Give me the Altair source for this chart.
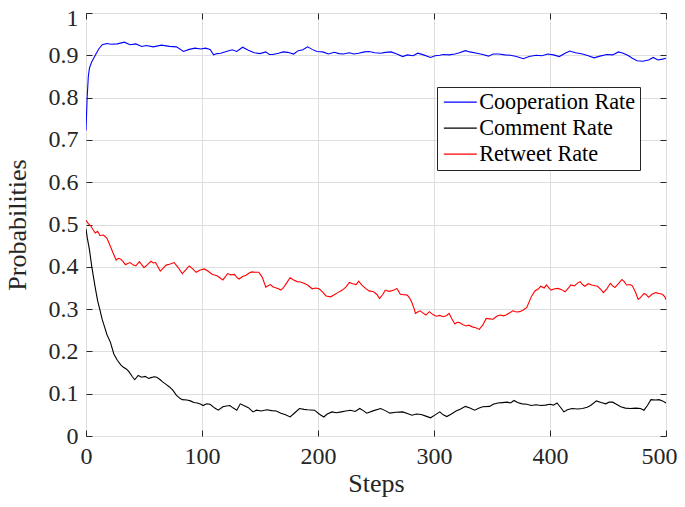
import altair as alt
import pandas as pd

# ---------------- data ----------------
series_names = ["Cooperation Rate", "Comment Rate", "Retweet Rate"]
series_colors = ["#0000ff", "#000000", "#ff0000"]

x_ticks = [0, 100, 200, 300, 400, 500]
y_ticks = [0, 0.1, 0.2, 0.3, 0.4, 0.5, 0.6, 0.7, 0.8, 0.9, 1.0]

coop_steps = [0, 1, 2, 3, 5, 8, 11, 14, 18, 22, 27, 33, 38, 43, 48, 52, 58, 65, 72, 78,
              84, 89, 94, 99, 103, 107, 110, 113, 116, 121, 126, 130, 135, 140, 145, 150,
              155, 158, 161, 166, 170, 174, 179, 183, 187, 191, 195, 199, 204, 209, 214,
              218, 222, 227, 231, 235, 240, 244, 249, 254, 258, 263, 268, 273, 277, 282,
              286, 291, 297, 301, 305, 308, 313, 318, 322, 327, 331, 337, 342, 347, 351,
              356, 361, 366, 371, 377, 382, 388, 393, 398, 403, 408, 413, 417, 422, 428,
              433, 438, 443, 449, 454, 459, 463, 467, 471, 475, 480, 485, 489, 493, 497, 500]
coop_vals = [0.722, 0.80, 0.85, 0.87, 0.885, 0.90, 0.915, 0.925, 0.928, 0.926, 0.927, 0.931,
             0.925, 0.927, 0.921, 0.923, 0.920, 0.924, 0.921, 0.920, 0.909, 0.914, 0.917,
             0.915, 0.917, 0.914, 0.901, 0.904, 0.905, 0.909, 0.913, 0.909, 0.919, 0.912,
             0.906, 0.904, 0.908, 0.902, 0.902, 0.905, 0.908, 0.907, 0.903, 0.911, 0.913,
             0.920, 0.914, 0.909, 0.908, 0.903, 0.907, 0.904, 0.903, 0.906, 0.903, 0.905,
             0.908, 0.909, 0.906, 0.905, 0.907, 0.908, 0.903, 0.897, 0.901, 0.899, 0.905,
             0.901, 0.895, 0.899, 0.900, 0.902, 0.901, 0.903, 0.906, 0.911, 0.908, 0.905,
             0.902, 0.898, 0.903, 0.903, 0.901, 0.900, 0.897, 0.892, 0.897, 0.900, 0.899,
             0.903, 0.901, 0.897, 0.905, 0.910, 0.906, 0.903, 0.899, 0.894, 0.898, 0.902,
             0.901, 0.908, 0.905, 0.900, 0.893, 0.887, 0.886, 0.889, 0.895, 0.889, 0.891, 0.893]

comment_steps = [0, 1, 3, 5, 8, 10, 12, 14, 16, 18, 21, 24, 27, 30, 32, 35, 37, 40, 42, 45,
                 48, 51, 54, 56, 59, 61, 64, 66, 69, 72, 75, 78, 81, 83, 87, 90, 93, 96, 99,
                 101, 104, 107, 111, 114, 118, 121, 124, 127, 130, 133, 136, 140, 144, 147,
                 151, 156, 160, 164, 168, 172, 176, 180, 184, 188, 191, 197, 201, 205, 208,
                 212, 216, 220, 224, 228, 232, 236, 239, 242, 248, 254, 258, 262, 267, 273,
                 277, 281, 285, 289, 293, 297, 301, 305, 308, 311, 315, 319, 323, 327, 331,
                 335, 339, 342, 348, 351, 355, 359, 363, 366, 369, 372, 376, 380, 384, 388,
                 392, 396, 400, 403, 406, 409, 412, 415, 419, 424, 428, 432, 435, 440, 444,
                 448, 451, 454, 458, 461, 465, 469, 474, 478, 481, 484, 487, 491, 494, 497, 500]
comment_vals = [0.49, 0.47, 0.44, 0.40, 0.35, 0.32, 0.298, 0.275, 0.258, 0.24, 0.222, 0.194,
                0.179, 0.168, 0.163, 0.158, 0.152, 0.140, 0.133, 0.143, 0.139, 0.141, 0.136,
                0.138, 0.140, 0.139, 0.133, 0.128, 0.122, 0.116, 0.108, 0.096, 0.089, 0.086,
                0.085, 0.083, 0.079, 0.078, 0.075, 0.072, 0.076, 0.075, 0.066, 0.061, 0.069,
                0.071, 0.072, 0.066, 0.061, 0.076, 0.072, 0.067, 0.057, 0.061, 0.059, 0.062,
                0.060, 0.059, 0.054, 0.050, 0.045, 0.055, 0.065, 0.063, 0.062, 0.061, 0.052,
                0.045, 0.052, 0.057, 0.055, 0.057, 0.059, 0.061, 0.058, 0.065, 0.060, 0.054,
                0.060, 0.065, 0.060, 0.054, 0.056, 0.057, 0.053, 0.049, 0.052, 0.051, 0.047,
                0.043, 0.050, 0.057, 0.050, 0.046, 0.052, 0.059, 0.064, 0.070, 0.066, 0.061,
                0.066, 0.069, 0.070, 0.075, 0.078, 0.079, 0.080, 0.078, 0.084, 0.079, 0.076,
                0.075, 0.072, 0.074, 0.072, 0.073, 0.075, 0.073, 0.078, 0.068, 0.057, 0.062,
                0.065, 0.064, 0.065, 0.068, 0.072, 0.083, 0.079, 0.076, 0.080, 0.080, 0.074,
                0.069, 0.066, 0.065, 0.066, 0.065, 0.061, 0.072, 0.086, 0.085, 0.086, 0.083, 0.078]

retweet_steps = [0, 2, 4, 6, 8, 10, 12, 15, 18, 20, 23, 26, 28, 30, 32, 34, 36, 38, 41, 43,
                 46, 48, 50, 53, 56, 58, 60, 62, 64, 67, 69, 72, 76, 79, 83, 86, 89, 92, 95,
                 98, 102, 105, 109, 113, 116, 118, 120, 122, 125, 128, 130, 132, 135, 138,
                 141, 143, 146, 149, 152, 155, 157, 159, 161, 164, 166, 168, 170, 172, 174,
                 176, 179, 182, 185, 188, 191, 195, 198, 201, 204, 207, 211, 214, 217, 221,
                 224, 227, 230, 233, 235, 238, 241, 244, 248, 251, 253, 256, 258, 261, 263,
                 266, 268, 271, 274, 277, 279, 281, 283, 284, 286, 288, 291, 293, 296, 299,
                 302, 305, 308, 311, 313, 315, 318, 320, 322, 325, 328, 330, 333, 336, 339,
                 342, 345, 348, 351, 354, 357, 360, 362, 365, 368, 371, 374, 377, 380, 382,
                 384, 387, 390, 392, 395, 397, 399, 401, 404, 407, 410, 413, 416, 418, 421,
                 424, 426, 428, 430, 433, 436, 439, 441, 444, 446, 449, 452, 454, 456, 459,
                 462, 464, 466, 469, 471, 474, 476, 478, 481, 483, 485, 488, 491, 494, 497,
                 499, 500]
retweet_vals = [0.510, 0.502, 0.497, 0.488, 0.480, 0.484, 0.474, 0.475, 0.468, 0.455, 0.435,
                0.416, 0.420, 0.418, 0.412, 0.405, 0.408, 0.410, 0.404, 0.402, 0.412, 0.405,
                0.398, 0.405, 0.413, 0.409, 0.410, 0.400, 0.390, 0.398, 0.404, 0.406, 0.410,
                0.400, 0.384, 0.393, 0.402, 0.395, 0.387, 0.392, 0.395, 0.390, 0.382, 0.379,
                0.373, 0.369, 0.376, 0.384, 0.381, 0.382, 0.375, 0.371, 0.377, 0.380, 0.386,
                0.388, 0.387, 0.387, 0.375, 0.352, 0.355, 0.358, 0.353, 0.350, 0.348, 0.345,
                0.350, 0.358, 0.366, 0.374, 0.369, 0.365, 0.364, 0.361, 0.357, 0.348, 0.350,
                0.348, 0.340, 0.331, 0.329, 0.334, 0.339, 0.345, 0.352, 0.363, 0.360, 0.358,
                0.366, 0.356, 0.349, 0.343, 0.341, 0.334, 0.325, 0.335, 0.345, 0.342, 0.343,
                0.346, 0.349, 0.335, 0.334, 0.333, 0.326, 0.315, 0.300, 0.290, 0.293, 0.296,
                0.290, 0.286, 0.294, 0.287, 0.283, 0.285, 0.282, 0.285, 0.290, 0.279, 0.265,
                0.269, 0.268, 0.263, 0.260, 0.262, 0.258, 0.256, 0.252, 0.262, 0.278, 0.277,
                0.276, 0.283, 0.286, 0.284, 0.286, 0.291, 0.296, 0.293, 0.294, 0.298, 0.304,
                0.317, 0.330, 0.343, 0.348, 0.354, 0.350, 0.357, 0.350, 0.345, 0.348, 0.349,
                0.346, 0.341, 0.350, 0.357, 0.355, 0.362, 0.365, 0.358, 0.354, 0.360, 0.357,
                0.355, 0.354, 0.346, 0.339, 0.348, 0.361, 0.355, 0.351, 0.360, 0.370, 0.365,
                0.357, 0.358, 0.355, 0.338, 0.323, 0.327, 0.337, 0.334, 0.328, 0.335, 0.339,
                0.337, 0.335, 0.329, 0.322]

# ---------------- table ----------------
frames = []
for name, st, vals in [(series_names[0], coop_steps, coop_vals),
                       (series_names[1], comment_steps, comment_vals),
                       (series_names[2], retweet_steps, retweet_vals)]:
    frames.append(pd.DataFrame({"step": st, "value": vals, "series": name}))
df = pd.concat(frames, ignore_index=True)

W, H = 580, 423
FONT = "Liberation Serif"
TXT = "#262626"
xscale = alt.Scale(domain=[0, 500], nice=False, zero=False)
yscale = alt.Scale(domain=[0, 1], nice=False, zero=False)

base = alt.Chart(df)

lines = base.mark_line(strokeWidth=1.1, clip=True).encode(
    x=alt.X("step:Q", scale=xscale,
            axis=alt.Axis(values=x_ticks, title="Steps", grid=True, tickSize=0,
                          domain=False, labelFlush=False, labelOverlap=False,
                          labelPadding=8, titlePadding=2, format="d",
                          labelOffset={"condition": {"test": "datum.value == 500", "value": -7},
                                       "value": 0})),
    y=alt.Y("value:Q", scale=yscale,
            axis=alt.Axis(values=y_ticks, title="Probabilities", grid=True, tickSize=0,
                          domain=False, labelOverlap=False, labelPadding=8,
                          titlePadding=18, format="~g",
                          labelOffset={"condition": {"test": "datum.value == 1", "value": 5},
                                       "value": 0})),
    color=alt.Color("series:N", sort=series_names,
                    scale=alt.Scale(domain=series_names, range=series_colors),
                    legend=alt.Legend(title=None, orient="none", legendX=351, legendY=74,
                                      symbolType="M-1,0H3", symbolSize=272,
                                      symbolStrokeWidth=1.1, labelFont=FONT,
                                      labelFontSize=22.2, labelColor="#000000",
                                      labelOffset=16, rowPadding=3, padding=4,
                                      strokeColor="#262626", fillColor="#ffffff",
                                      cornerRadius=0)),
)

ticks_a = base.mark_point(opacity=0, size=1).encode(
    x=alt.X("step:Q", scale=xscale,
            axis=alt.Axis(orient="top", offset=-H, values=x_ticks, labels=False,
                          grid=False, domain=False, tickSize=6, title=None)),
    y=alt.Y("value:Q", scale=yscale,
            axis=alt.Axis(orient="right", offset=-W, values=y_ticks, labels=False,
                          grid=False, domain=False, tickSize=6, title=None)),
)

ticks_b = base.mark_point(opacity=0, size=1).encode(
    x=alt.X("step:Q", scale=xscale,
            axis=alt.Axis(orient="bottom", offset=-H, values=x_ticks, labels=False,
                          grid=False, domain=False, tickSize=6, title=None)),
    y=alt.Y("value:Q", scale=yscale,
            axis=alt.Axis(orient="left", offset=-W, values=y_ticks, labels=False,
                          grid=False, domain=False, tickSize=6, title=None)),
)

chart = alt.layer(lines, ticks_a, ticks_b).resolve_axis(
    x="independent", y="independent"
).properties(
    width=W, height=H, autosize="none",
    padding={"left": 78, "top": 5, "right": 11, "bottom": 63},
    background="#ffffff",
).configure_view(
    stroke="#262626", strokeWidth=1
).configure_axis(
    labelFont=FONT, labelFontSize=24, labelColor=TXT,
    titleFont=FONT, titleFontSize=26, titleColor=TXT, titleFontWeight="normal",
    gridColor="#dedede", gridWidth=1, tickColor=TXT, tickWidth=1,
)

chart.save("out.html", embed_options={"renderer": "svg", "actions": False})
